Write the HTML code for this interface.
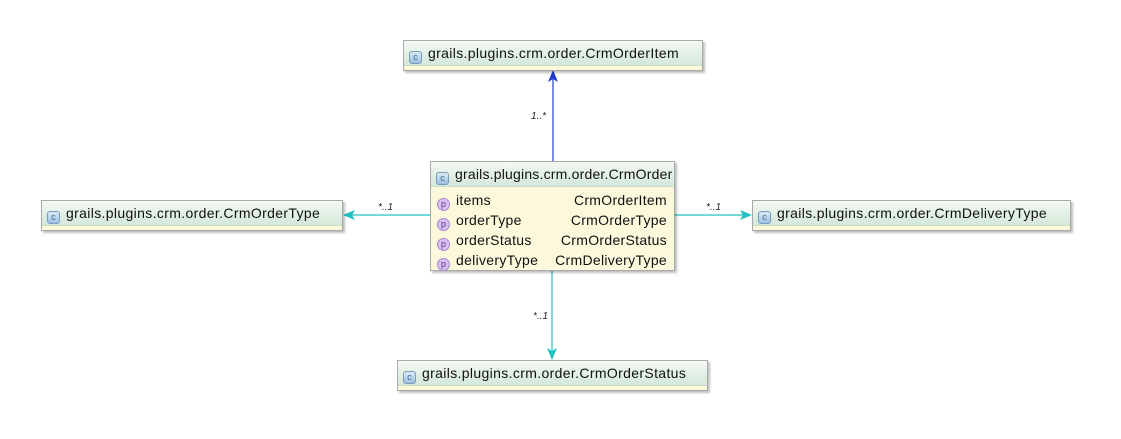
<!DOCTYPE html>
<html><head><meta charset="utf-8"><style>
body{margin:0;width:1121px;height:439px;background:#fff;position:relative;overflow:hidden;font-family:"Liberation Sans","DejaVu Sans",sans-serif;}
.box{position:absolute;background:#fcf8dc;border:1px solid #a9a9a9;box-shadow:2px 2px 2px rgba(0,0,0,0.25);box-sizing:border-box;}
.hd{height:24px;background:linear-gradient(#f4f9f4,#d4e8d8);border-bottom:1px solid #c8e0cc;font-size:14px;letter-spacing:0.35px;line-height:25px;white-space:nowrap;color:#111;}
.ci{display:inline-block;width:13px;height:13px;border-radius:3px;background:linear-gradient(#dbe9f5,#9dc0df);border:1px solid #7a9cbc;vertical-align:-2px;margin:0 6px 0 5px;font-size:9px;line-height:11px;text-align:center;color:#3a6a95;box-sizing:border-box;letter-spacing:0;}
.row{height:20px;font-size:14px;letter-spacing:0.3px;line-height:20px;position:relative;color:#111;}
.p{display:inline-block;width:13px;height:13px;border-radius:7px;background:#d8bff0;border:1px solid #a98ad0;vertical-align:-2px;margin:0 6px 0 6px;font-size:9px;line-height:11px;text-align:center;color:#5a3a8a;box-sizing:border-box;letter-spacing:0;}
.t{position:absolute;right:7px;top:0;}
.lbl{position:absolute;font-size:10px;font-style:italic;color:#222;}
</style></head><body>
<svg width="1121" height="439" style="position:absolute;left:0;top:0">
<line x1="553" y1="161" x2="553" y2="78" stroke="#1f3ad0" stroke-width="1.2"/>
<polygon points="553,70 548,82 553,79 558,82" fill="#1f3ad0"/>
<line x1="430" y1="215" x2="350" y2="215" stroke="#1ec1c1" stroke-width="1.2"/>
<polygon points="343,215 355,210 352,215 355,220" fill="#1ec1c1"/>
<line x1="675" y1="215" x2="745" y2="215" stroke="#1ec1c1" stroke-width="1.2"/>
<polygon points="752,215 740,210 743,215 740,220" fill="#1ec1c1"/>
<line x1="552" y1="270" x2="552" y2="352" stroke="#1ec1c1" stroke-width="1.2"/>
<polygon points="552,360 547,348 552,351 557,348" fill="#1ec1c1"/>
</svg>
<div class="lbl" style="left:531px;top:111px">1..*</div>
<div class="lbl" style="left:378px;top:202px">*..1</div>
<div class="lbl" style="left:706px;top:202px">*..1</div>
<div class="lbl" style="left:533px;top:311px">*..1</div>

<div class="box" style="left:403px;top:40px;width:300px;height:31px"><div class="hd"><span class="ci">c</span>grails.plugins.crm.order.CrmOrderItem</div></div>
<div class="box" style="left:41px;top:200px;width:302px;height:31px"><div class="hd"><span class="ci">c</span>grails.plugins.crm.order.CrmOrderType</div></div>
<div class="box" style="left:752px;top:200px;width:319px;height:31px"><div class="hd"><span class="ci">c</span>grails.plugins.crm.order.CrmDeliveryType</div></div>
<div class="box" style="left:397px;top:360px;width:311px;height:31px"><div class="hd"><span class="ci">c</span>grails.plugins.crm.order.CrmOrderStatus</div></div>

<div class="box" style="left:430px;top:161px;width:245px;height:110px">
<div class="hd" style="height:24px;line-height:25px;letter-spacing:0.2px"><span class="ci">c</span>grails.plugins.crm.order.CrmOrder</div>
<div style="height:3px"></div>
<div class="row"><span class="p">p</span>items<span class="t">CrmOrderItem</span></div>
<div class="row"><span class="p">p</span>orderType<span class="t">CrmOrderType</span></div>
<div class="row"><span class="p">p</span>orderStatus<span class="t">CrmOrderStatus</span></div>
<div class="row"><span class="p">p</span>deliveryType<span class="t">CrmDeliveryType</span></div>
</div>
</body></html>
